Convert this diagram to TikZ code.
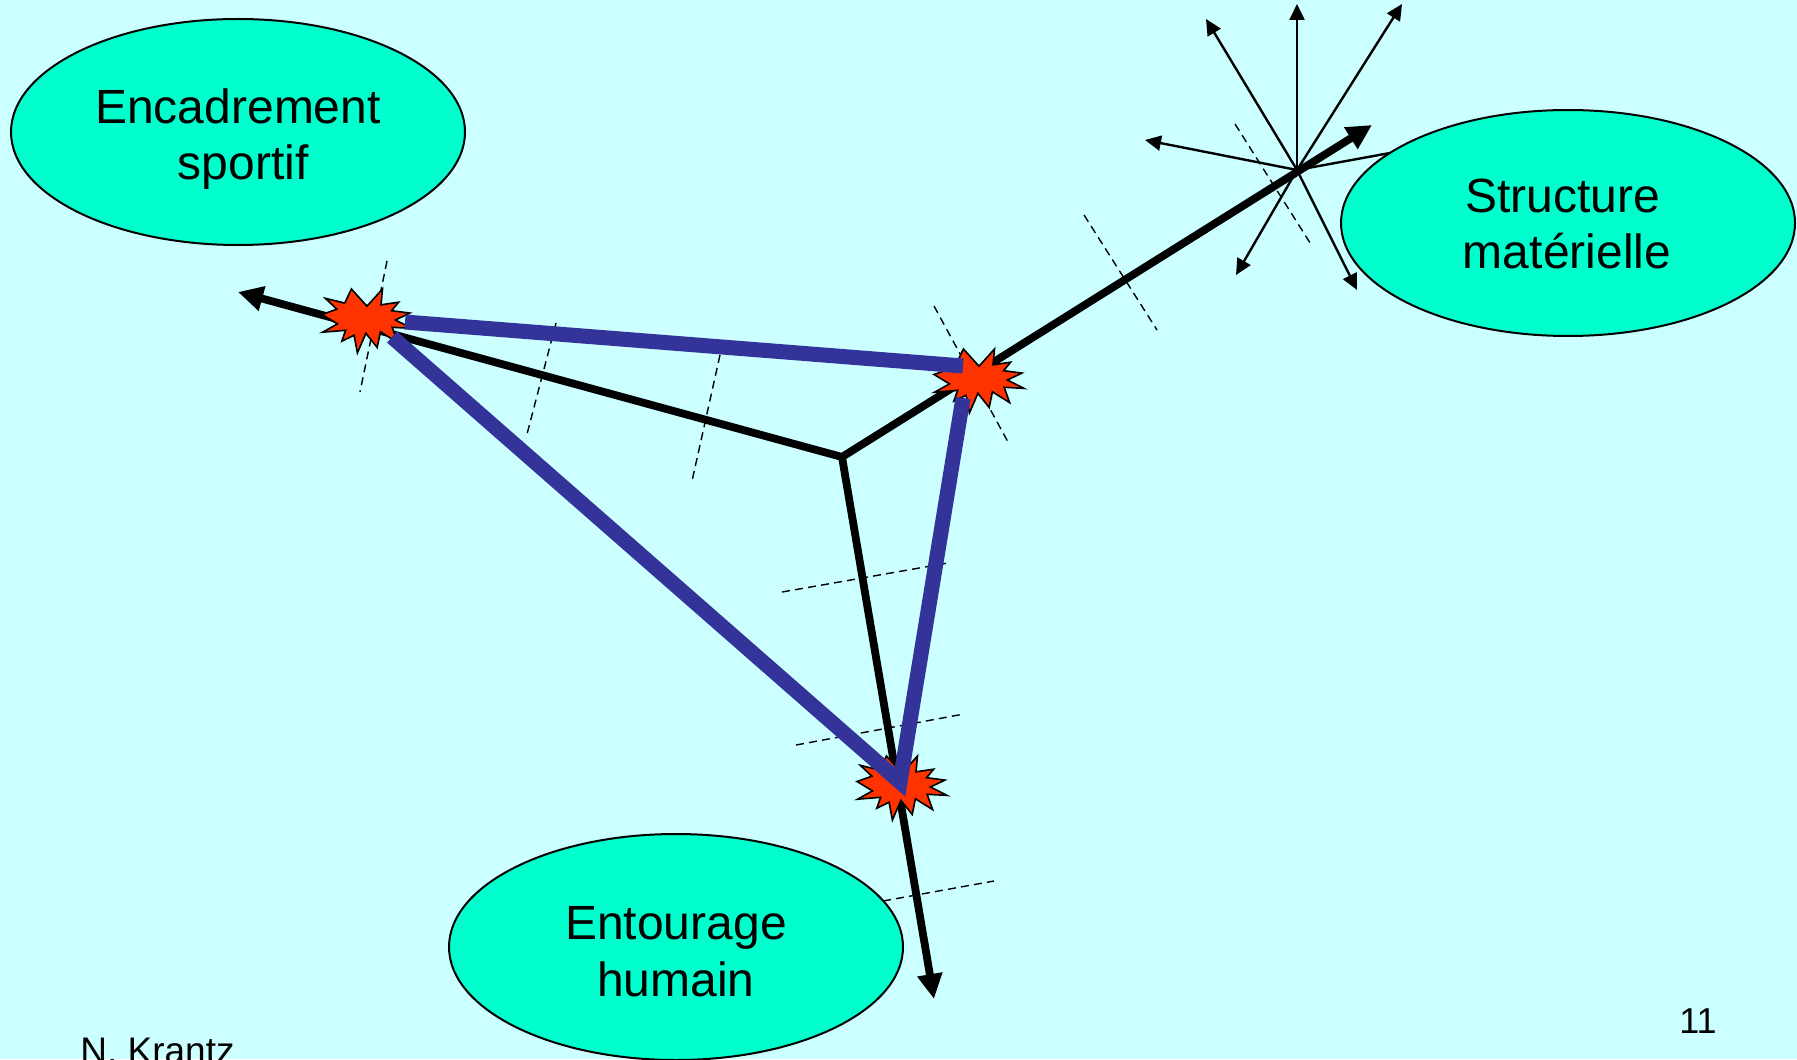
\documentclass[tikz,border=0pt]{standalone}
\usepackage{fontspec}
\setmainfont{Liberation Sans}
\usetikzlibrary{arrows.meta,shapes.geometric}
\definecolor{bgcol}{HTML}{CCFFFF}
\definecolor{ovalcol}{HTML}{00FFCC}
\definecolor{barcol}{HTML}{333399}
\definecolor{boomcol}{HTML}{FF3300}
\tikzset{
  oval/.style={ellipse, draw=black, line width=1pt, fill=ovalcol,
    minimum width=227pt, minimum height=113pt, inner sep=0pt},
  lbl/.style={align=center, inner sep=0pt, font=\fontsize{24}{28.3}\selectfont},
  axis/.style={draw=black, line width=3.9pt},
  bigtip/.style={-{Triangle[length=12.5pt,width=12pt]}},
  thinarrow/.style={draw=black, line width=1.2pt, -{Triangle[length=8pt,width=7.5pt]}},
  tick/.style={draw=black, line width=0.7pt, dash pattern=on 4pt off 2.6pt},
  bar/.style={draw=barcol, line width=7.5pt, line join=miter},
  boom/.pic={
    \filldraw[fill=boomcol, draw=black, line width=0.8pt, line join=miter]
      (0,-14.8) -- (15.5,-32) -- (14.0,-16.2) -- (31.6,-18.8) -- (24.6,-10.3)
      -- (42.9,-7.9) -- (28.4,-1.0) -- (45,7.4) -- (25.2,6.3) -- (30.6,21.6)
      -- (13.4,10.8) -- (10.2,26.5) -- (-1.1,12.3) -- (-9.6,32) -- (-12.9,14.3)
      -- (-25.2,20.2) -- (-21.4,9.3) -- (-44.4,11.2) -- (-29.5,2.9) -- (-45,-6.5)
      -- (-30.1,-11.8) -- (-41.7,-22.7) -- (-22.3,-17.9) -- (-15.6,-32) -- cycle;
  }
}
\begin{document}
\begin{tikzpicture}[x=0.5pt,y=-0.5pt]
\useasboundingbox (0,0) rectangle (1797,1059);
\fill[bgcol] (0,0) rectangle (1797,1059);

% ovals
\node[oval] (enc) at (238,132) {};
\node[oval] (str) at (1568,223) {};
\node[oval] (ent) at (676,947) {};
\node[lbl] (encT) at (238,139) {Encadrement\\\hspace*{5pt}sportif};
\node[lbl] (strT) at (1567,224) {Structure\hspace*{4.5pt}\\matérielle};
\node[lbl] (entT) at (676,952) {Entourage\\humain};

% key points
\coordinate (ctr) at (842,457);
\coordinate (tipL) at (238,292);
\coordinate (tipR) at (1372,125);
\coordinate (tipD) at (934,999);
\coordinate (s1) at (367,321);
\coordinate (s2) at (979,381);
\coordinate (s3) at (902,788);
\coordinate (hub) at (1297,170);

% dashed ticks
\coordinate (d1a) at (387,261);  \coordinate (d1b) at (360,392);
\coordinate (d2a) at (556,323);  \coordinate (d2b) at (526,438);
\coordinate (d3a) at (720,355);  \coordinate (d3b) at (692,481);
\coordinate (d4a) at (934,306);  \coordinate (d4b) at (1008,442);
\coordinate (d5a) at (1084,215); \coordinate (d5b) at (1157,330);
\coordinate (d6a) at (1235,124); \coordinate (d6b) at (1312,246);
\coordinate (d7a) at (782,592);  \coordinate (d7b) at (948,563);
\coordinate (d8a) at (796,745);  \coordinate (d8b) at (964,714);
\coordinate (d9a) at (883,901);  \coordinate (d9b) at (994,881);
\foreach \i in {1,...,9} \draw[tick] (d\i a) -- (d\i b);

% thin arrows around the hub
\coordinate (h1) at (1297,4);
\coordinate (h2) at (1206,19);
\coordinate (h3) at (1402,4);
\coordinate (h4) at (1145,140);
\coordinate (h5) at (1236,275);
\coordinate (h6) at (1357,290);
\coordinate (h7) at (1390,153);
\foreach \i in {1,...,6} \draw[thinarrow] (hub) -- (h\i);
\draw[draw=black, line width=1.2pt] (hub) -- (h7);

% black axes
\draw[axis, bigtip] (ctr) -- (tipL);
\draw[axis, bigtip] (ctr) -- (tipR);
\draw[axis, bigtip] (ctr) -- (tipD);

% explosions
\pic at (s1) {boom};
\pic at (s2) {boom};
\pic at (s3) {boom};

% blue bars
\coordinate (b1a) at (405,322); \coordinate (b1b) at (963,366);
\coordinate (b2a) at (392,337); \coordinate (b3m) at (900,782);
\coordinate (b3a) at (963,398);
\draw[bar] (b1a) -- (b1b);
\draw[bar] (b2a) -- (b3m) -- (b3a);

% footer
\node[font=\fontsize{18.5}{20}\selectfont, anchor=base west, inner sep=0pt] (auth) at (80,1063) {N. Krantz};
\node[font=\fontsize{18}{20}\selectfont, anchor=base, inner sep=0pt] (page) at (1698,1033) {11};
\end{tikzpicture}
\end{document}
